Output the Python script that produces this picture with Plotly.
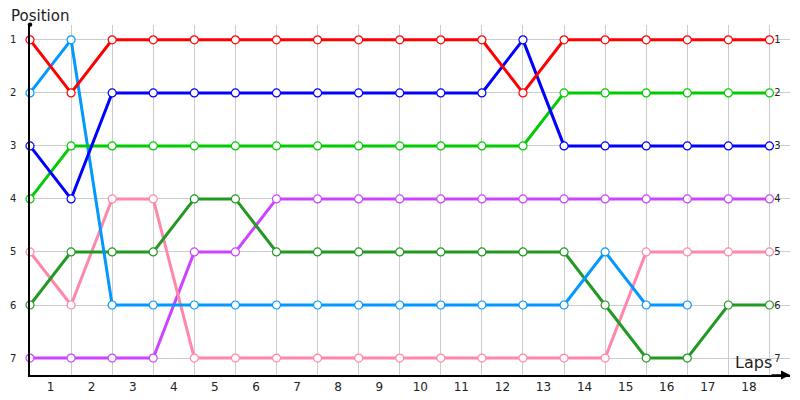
import plotly.graph_objects as go

# posicoes por volta (0 = largada)
laps = list(range(0, 19))
lap_labels = [str(i) for i in range(1, 19)]
positions = [1, 2, 3, 4, 5, 6, 7]

red = [1, 2, 1, 1, 1, 1, 1, 1, 1, 1, 1, 1, 2, 1, 1, 1, 1, 1, 1]
blue = [3, 4, 2, 2, 2, 2, 2, 2, 2, 2, 2, 2, 1, 3, 3, 3, 3, 3, 3]
lime = [4, 3, 3, 3, 3, 3, 3, 3, 3, 3, 3, 3, 3, 2, 2, 2, 2, 2, 2]
sky = [2, 1, 6, 6, 6, 6, 6, 6, 6, 6, 6, 6, 6, 6, 5, 6, 6]
forest = [6, 5, 5, 5, 4, 4, 5, 5, 5, 5, 5, 5, 5, 5, 6, 7, 7, 6, 6]
pink = [5, 6, 4, 4, 7, 7, 7, 7, 7, 7, 7, 7, 7, 7, 7, 5, 5, 5, 5]
purple = [7, 7, 7, 7, 5, 5, 4, 4, 4, 4, 4, 4, 4, 4, 4, 4, 4, 4, 4]

series = [
    (purple, "#cc44ff"),
    (pink, "#ff88aa"),
    (forest, "#229922"),
    (sky, "#0099ff"),
    (lime, "#00cc00"),
    (blue, "#0000ff"),
    (red, "#ff0000"),
]

fig = go.Figure()
for vals, cor in series:
    fig.add_trace(go.Scatter(
        x=laps[:len(vals)], y=vals, mode="lines+markers",
        line=dict(color=cor, width=3),
        marker=dict(size=8, color="white", line=dict(color=cor, width=1.2)),
        cliponaxis=False, showlegend=False,
    ))

grid = "#cccccc"
# a pagina tem margem de 8px no body, por isso a figura e um pouco menor
fig.update_layout(
    width=784, height=392,
    margin=dict(l=22, r=2, t=17, b=25),
    paper_bgcolor="white", plot_bgcolor="white",
    font=dict(family="DejaVu Sans", size=12, color="#222222"),
    xaxis=dict(
        range=[0, 18.5], tickmode="array", automargin=False,
        tickvals=[i + 0.5 for i in range(18)], ticktext=lap_labels,
        showgrid=False, zeroline=False, ticks="",
        showline=True, linecolor="black", linewidth=1.5,
        tickfont=dict(size=12),
        minor=dict(tickmode="array", tickvals=laps, showgrid=True,
                   gridcolor=grid, gridwidth=1, ticks=""),
    ),
    yaxis=dict(
        range=[7.32, 0.72], tickmode="array", tickvals=positions,
        automargin=False,
        showgrid=True, gridcolor=grid, gridwidth=1, zeroline=False,
        ticks="", showline=True, linecolor="black", linewidth=1.5,
        tickfont=dict(size=10), ticklabelstandoff=10,
    ),
    yaxis2=dict(
        range=[7.32, 0.72], tickmode="array", tickvals=positions,
        overlaying="y", side="right", anchor="free", position=0.978,
        automargin=False,
        showgrid=False, zeroline=False, showline=False, ticks="",
        tickfont=dict(size=10),
    ),
)

# eixo y2 precisa de um traco para aparecer
fig.add_trace(go.Scatter(x=[None], y=[None], yaxis="y2", showlegend=False))

fig.add_annotation(text="Position", xref="paper", yref="paper", x=-0.027, y=1.0,
                   xanchor="left", yanchor="bottom", showarrow=False,
                   yshift=-2, font=dict(size=15, color="#222222"))
fig.add_annotation(text="Laps", xref="x", yref="paper", x=18.12, y=0.0,
                   xanchor="right", yanchor="bottom", showarrow=False,
                   yshift=1, font=dict(size=16, color="#222222"))
fig.add_annotation(x=18.5, y=0, xref="x", yref="paper", ax=-20, ay=0,
                   showarrow=True, arrowhead=2, arrowsize=1.2, arrowwidth=1.5,
                   arrowcolor="black", text="")
fig.add_shape(type="circle", xref="paper", yref="paper", x0=-0.003, x1=0.003,
              y0=0.995, y1=1.007, fillcolor="black", line=dict(width=0))

fig.write_html("out.html")
